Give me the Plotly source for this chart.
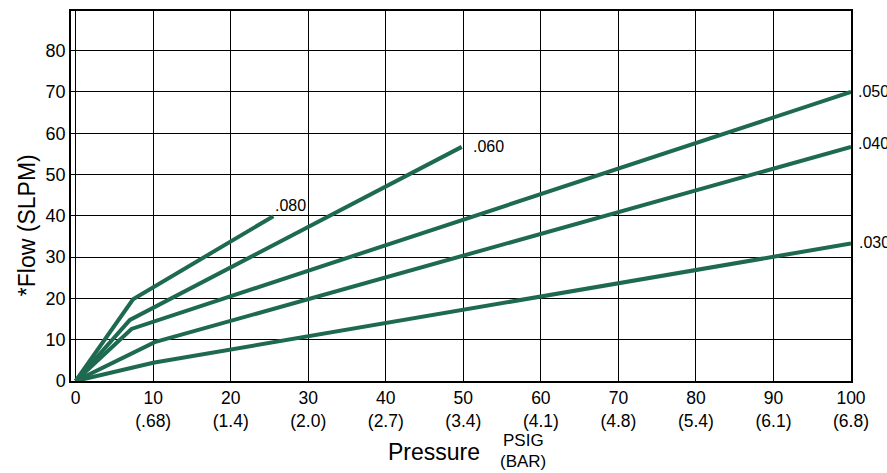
import plotly.graph_objects as go

# Data (pressure PSIG vs flow SLPM)
series_names = [".080", ".060", ".050", ".040", ".030"]
x_080 = [0, 7.4, 25.5]
y_080 = [0, 19.8, 39.9]
x_060 = [0, 7.0, 49.8]
y_060 = [0, 14.8, 56.7]
x_050 = [0, 7.2, 100]
y_050 = [0, 12.6, 70.0]
x_040 = [0, 10.2, 100]
y_040 = [0, 9.4, 56.7]
x_030 = [0, 10.0, 100]
y_030 = [0, 4.4, 33.3]

x_tickvals = [0, 10, 20, 30, 40, 50, 60, 70, 80, 90, 100]
x_psig = ["0", "10", "20", "30", "40", "50", "60", "70", "80", "90", "100"]
x_bar = ["", "(.68)", "(1.4)", "(2.0)", "(2.7)", "(3.4)", "(4.1)", "(4.8)", "(5.4)", "(6.1)", "(6.8)"]
y_tickvals = [0, 10, 20, 30, 40, 50, 60, 70, 80]

LINE_COLOR = "#1e6a50"
FONT = "Liberation Sans, Arial, Helvetica, sans-serif"

xs = [x_080, x_060, x_050, x_040, x_030]
ys = [y_080, y_060, y_050, y_040, y_030]
# label offsets (pixels) relative to each line's end point
label_shift = [(0, 11), (9, 0), (5, 0), (5, 3), (6, 1)]

fig = go.Figure()
for name, xv, yv in zip(series_names, xs, ys):
    fig.add_trace(go.Scatter(x=xv, y=yv, mode="lines", name=name,
                             line=dict(color=LINE_COLOR, width=4),
                             showlegend=False, hoverinfo="skip"))

for name, xv, yv, (dx, dy) in zip(series_names, xs, ys, label_shift):
    fig.add_annotation(x=xv[-1], y=yv[-1], text=name, showarrow=False,
                       xanchor="left", yanchor="middle", xshift=dx, yshift=dy,
                       font=dict(family=FONT, size=16, color="black"))

ticktext = [p if not b else f"{p}<br>{b}" for p, b in zip(x_psig, x_bar)]

fig.update_xaxes(range=[-0.6, 100], tickvals=x_tickvals, ticktext=ticktext,
                 showgrid=True, gridcolor="black", gridwidth=1.3,
                 showline=True, linecolor="black", linewidth=1.5, mirror=True,
                 zeroline=False, ticks="", tickfont=dict(family=FONT, size=17.5, color="black"),
                 fixedrange=True)
fig.update_yaxes(range=[0, 89.6], tickvals=y_tickvals,
                 showgrid=True, gridcolor="black", gridwidth=1.3,
                 showline=True, linecolor="black", linewidth=1.5, mirror=True,
                 zeroline=False, ticks="", tickfont=dict(family=FONT, size=18, color="black"),
                 fixedrange=True)

# axis titles
fig.add_annotation(xref="paper", yref="paper", x=-0.057, y=0.42, text="*Flow (SLPM)",
                   textangle=-90, showarrow=False, xanchor="center", yanchor="middle",
                   font=dict(family=FONT, size=23, color="black"))
fig.add_annotation(xref="paper", yref="paper", x=0.466, y=-0.191, text="Pressure",
                   showarrow=False, xanchor="center", yanchor="middle",
                   font=dict(family=FONT, size=23, color="black"))
fig.add_annotation(xref="paper", yref="paper", x=0.58, y=-0.161, text="PSIG",
                   showarrow=False, xanchor="center", yanchor="middle",
                   font=dict(family=FONT, size=17, color="black"))
fig.add_annotation(xref="paper", yref="paper", x=0.58, y=-0.217, text="(BAR)",
                   showarrow=False, xanchor="center", yanchor="middle",
                   font=dict(family=FONT, size=17, color="black"))

fig.update_layout(width=887, height=473, plot_bgcolor="white", paper_bgcolor="white",
                  margin=dict(l=71, r=36, t=9, b=92), font=dict(family=FONT))

fig.write_html("out.html", config={"displayModeBar": False},
               post_script="document.body.style.margin='0';document.body.style.overflow='hidden';")
